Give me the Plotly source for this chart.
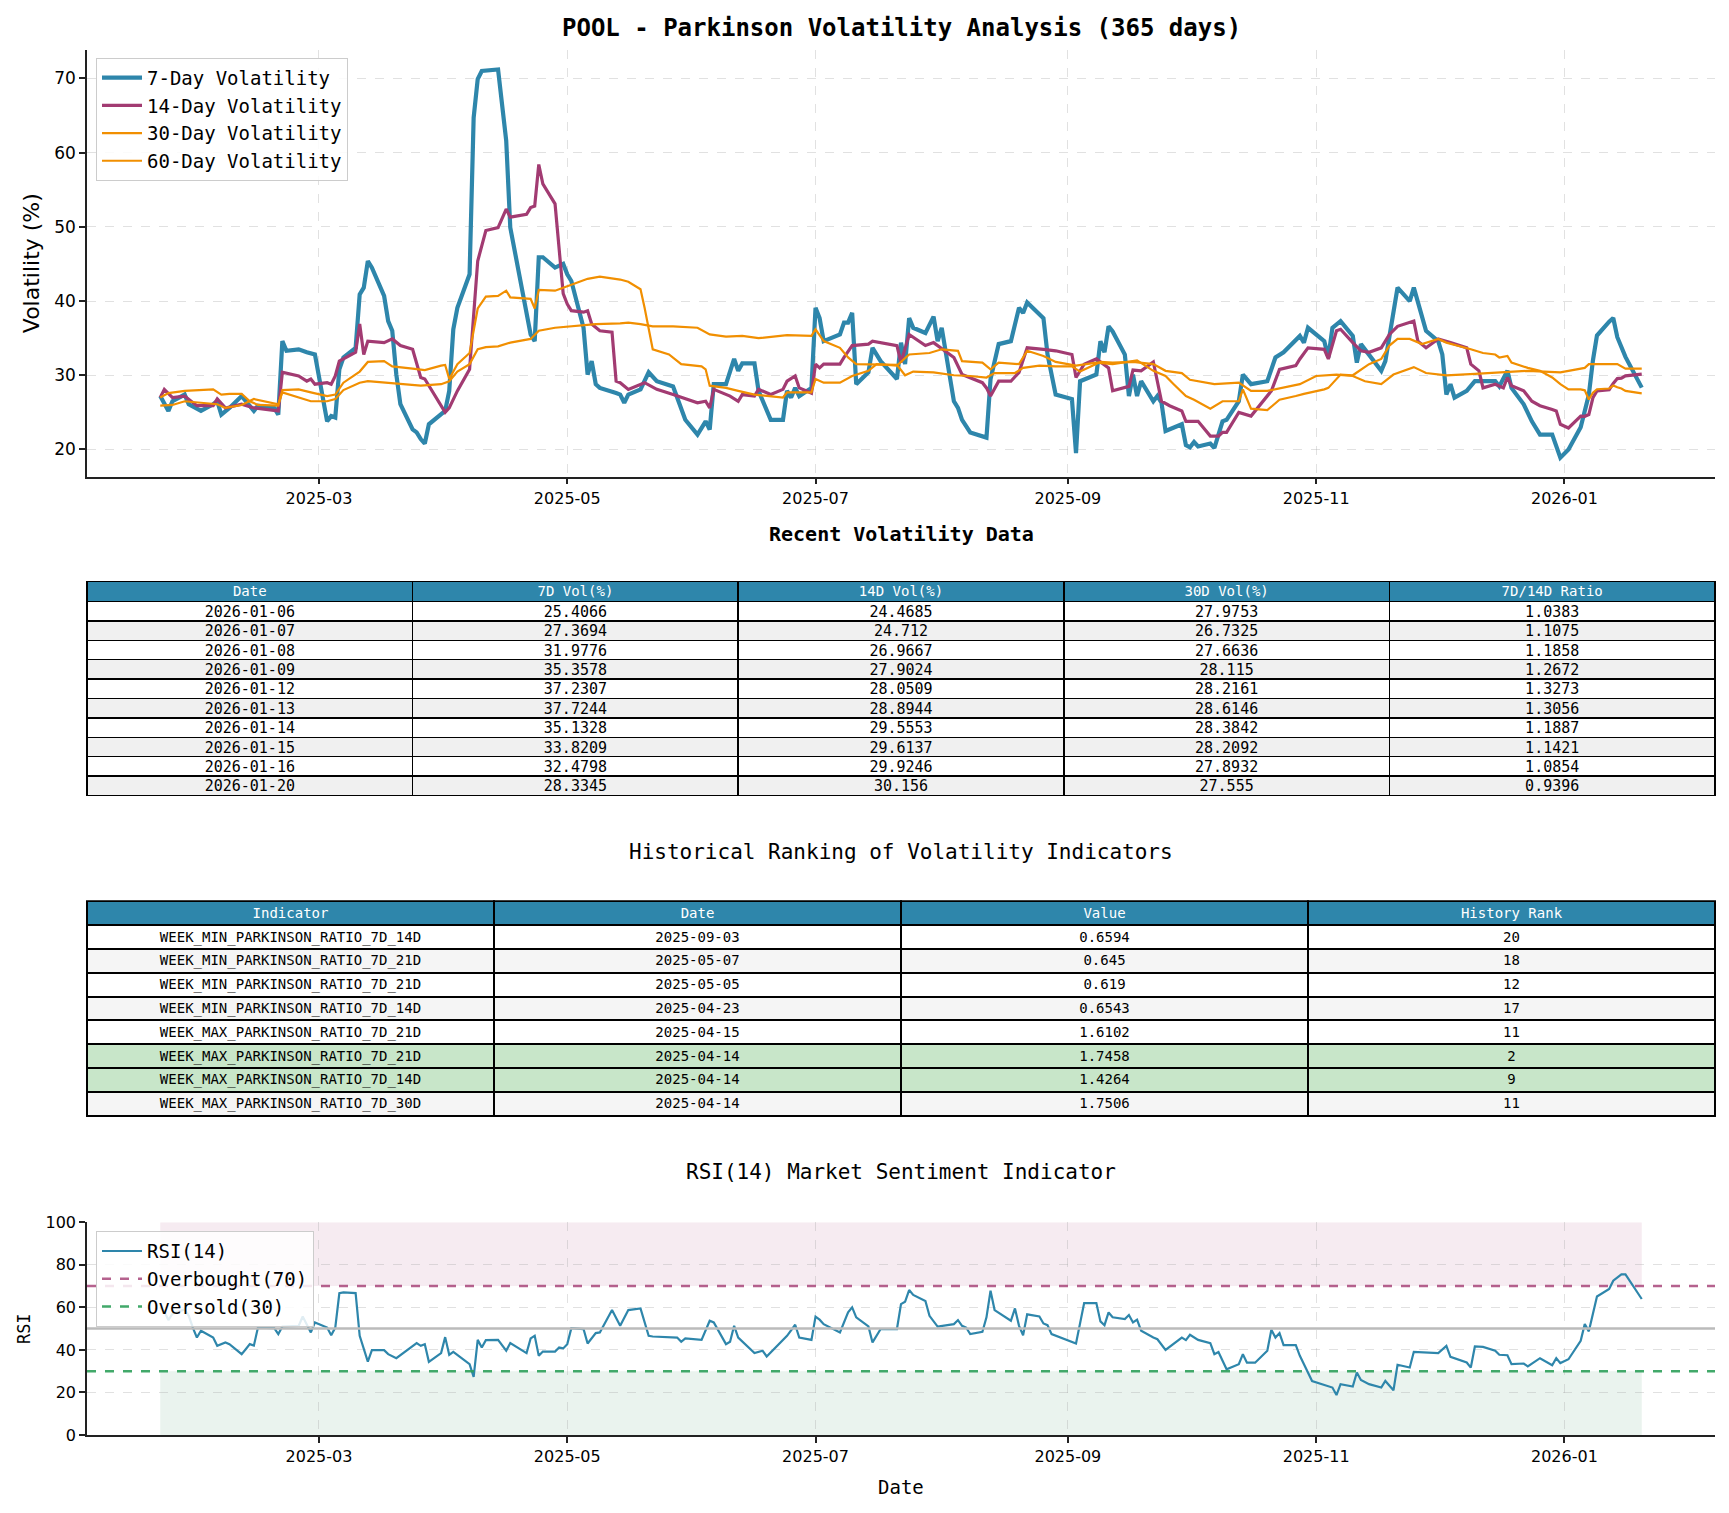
import plotly.graph_objects as go

FONT = "DejaVu Sans Mono"
SANS = "DejaVu Sans"

# ---------------- data ----------------
vol7_dates = ["2025-01-21","2025-01-23","2025-01-24","2025-01-27","2025-01-28","2025-01-31","2025-02-03","2025-02-04","2025-02-05","2025-02-07",
"2025-02-10","2025-02-13","2025-02-14","2025-02-18","2025-02-19","2025-02-20","2025-02-21","2025-02-24","2025-02-26","2025-02-28",
"2025-03-03","2025-03-04","2025-03-05","2025-03-06","2025-03-07","2025-03-10","2025-03-11","2025-03-12","2025-03-13","2025-03-14",
"2025-03-17","2025-03-18","2025-03-19","2025-03-20","2025-03-21","2025-03-24","2025-03-25","2025-03-26","2025-03-27","2025-03-28",
"2025-04-01","2025-04-02","2025-04-03","2025-04-04","2025-04-07","2025-04-08","2025-04-09","2025-04-10","2025-04-14","2025-04-16",
"2025-04-17","2025-04-22","2025-04-23","2025-04-24","2025-04-25","2025-04-28","2025-04-30","2025-05-01","2025-05-02","2025-05-05",
"2025-05-06","2025-05-07","2025-05-08","2025-05-09","2025-05-13","2025-05-14","2025-05-15","2025-05-16","2025-05-19","2025-05-21",
"2025-05-23","2025-05-27","2025-05-30","2025-06-02","2025-06-04","2025-06-05","2025-06-06","2025-06-09","2025-06-11","2025-06-12",
"2025-06-13","2025-06-16","2025-06-17","2025-06-20","2025-06-23","2025-06-24","2025-06-25","2025-06-26","2025-06-27","2025-06-30",
"2025-07-01","2025-07-02","2025-07-03","2025-07-07","2025-07-08","2025-07-09","2025-07-10","2025-07-11","2025-07-14","2025-07-15",
"2025-07-17","2025-07-21","2025-07-22","2025-07-23","2025-07-24","2025-07-25","2025-07-28","2025-07-30","2025-07-31","2025-08-01",
"2025-08-04","2025-08-05","2025-08-06","2025-08-08","2025-08-12","2025-08-13","2025-08-15","2025-08-18","2025-08-20","2025-08-21",
"2025-08-22","2025-08-26","2025-08-27","2025-08-29","2025-09-02","2025-09-03","2025-09-04","2025-09-08","2025-09-09","2025-09-10",
"2025-09-11","2025-09-12","2025-09-15","2025-09-16","2025-09-17","2025-09-18","2025-09-19","2025-09-22","2025-09-23","2025-09-24",
"2025-09-25","2025-09-26","2025-09-29","2025-09-30","2025-10-01","2025-10-02","2025-10-03","2025-10-06","2025-10-07","2025-10-08",
"2025-10-09","2025-10-10","2025-10-13","2025-10-14","2025-10-16","2025-10-20","2025-10-21","2025-10-22","2025-10-24","2025-10-28",
"2025-10-29","2025-10-30","2025-11-03","2025-11-04","2025-11-05","2025-11-07","2025-11-10","2025-11-11","2025-11-12","2025-11-17",
"2025-11-18","2025-11-19","2025-11-21","2025-11-24","2025-11-25","2025-11-28","2025-12-01","2025-12-02","2025-12-03","2025-12-04",
"2025-12-05","2025-12-08","2025-12-10","2025-12-15","2025-12-16","2025-12-18","2025-12-19","2025-12-22","2025-12-23","2025-12-24",
"2025-12-26","2025-12-29","2025-12-31","2026-01-02","2026-01-05","2026-01-06","2026-01-07","2026-01-08","2026-01-09","2026-01-12",
"2026-01-13","2026-01-14","2026-01-15","2026-01-16","2026-01-20"]
vol7_values = [27.2,25.2,26.5,27.4,26.1,25.2,26.1,26.5,24.7,25.6,
27.2,25.2,25.9,25.6,24.7,34.6,33.3,33.5,33.1,32.8,
23.8,24.5,24.3,30.8,32.4,33.7,40.9,41.8,45.4,44.5,
40.7,37.3,36.0,30.1,26.1,22.7,22.3,21.4,20.8,23.4,
25.2,27.9,36.2,39.1,43.6,64.7,69.9,71.0,71.2,61.6,
49.9,35.5,34.6,45.9,45.9,44.5,45.0,43.6,42.7,36.4,
30.1,31.9,28.8,28.3,27.6,27.4,26.3,27.4,28.1,30.4,
29.2,28.5,24.0,22.0,23.8,22.7,28.8,28.8,32.2,30.6,
31.6,31.6,27.9,24.0,24.0,27.9,27.0,28.3,27.2,28.3,
39.1,37.7,34.6,35.5,37.1,37.1,38.4,28.8,30.4,33.7,
31.9,29.5,34.4,31.5,37.7,36.4,35.7,37.9,34.6,36.4,
26.5,25.6,24.0,22.3,21.6,29.5,34.2,34.6,39.1,38.4,
39.8,37.7,32.8,27.4,26.8,19.5,29.2,30.1,34.6,33.1,
36.6,35.9,32.8,27.2,30.1,27.2,29.2,26.5,27.2,26.3,
22.5,22.7,23.4,20.6,20.3,21.0,20.4,20.8,20.2,22.0,
23.8,24.0,26.5,30.1,28.8,29.2,31.0,32.4,33.1,35.3,
34.4,36.4,34.6,32.4,36.4,37.3,35.3,31.7,34.2,30.6,
31.9,35.3,41.8,40.0,41.8,36.0,34.6,32.8,27.4,28.8,
27.0,27.9,29.2,29.2,28.5,30.6,28.3,26.1,25.0,23.8,
22.0,22.0,18.9,20.0,23.0,25.4066,27.3694,31.9776,35.3578,37.2307,
37.7244,35.1328,33.8209,32.4798,28.3345]

vol14_dates = ["2025-01-21","2025-01-22","2025-01-24","2025-01-27","2025-01-30","2025-02-03","2025-02-04","2025-02-06","2025-02-10","2025-02-13",
"2025-02-19","2025-02-20","2025-02-24","2025-02-26","2025-02-27","2025-02-28","2025-03-03","2025-03-04","2025-03-05","2025-03-06",
"2025-03-10","2025-03-11","2025-03-12","2025-03-13","2025-03-17","2025-03-19","2025-03-21","2025-03-24","2025-03-26","2025-03-27",
"2025-04-01","2025-04-02","2025-04-04","2025-04-07","2025-04-09","2025-04-11","2025-04-14","2025-04-16","2025-04-17","2025-04-21",
"2025-04-22","2025-04-23","2025-04-24","2025-04-25","2025-04-28","2025-04-30","2025-05-01","2025-05-02","2025-05-05","2025-05-06",
"2025-05-07","2025-05-09","2025-05-12","2025-05-13","2025-05-14","2025-05-16","2025-05-20","2025-05-23","2025-05-27","2025-05-30",
"2025-06-02","2025-06-04","2025-06-05","2025-06-06","2025-06-10","2025-06-12","2025-06-13","2025-06-16","2025-06-17","2025-06-20",
"2025-06-23","2025-06-24","2025-06-26","2025-06-27","2025-06-30","2025-07-01","2025-07-02","2025-07-03","2025-07-07","2025-07-08",
"2025-07-10","2025-07-14","2025-07-15","2025-07-21","2025-07-22","2025-07-24","2025-07-28","2025-07-30","2025-07-31","2025-08-04",
"2025-08-06","2025-08-11","2025-08-12","2025-08-13","2025-08-15","2025-08-18","2025-08-20","2025-08-22","2025-08-26","2025-08-29",
"2025-09-02","2025-09-03","2025-09-05","2025-09-08","2025-09-11","2025-09-12","2025-09-16","2025-09-17","2025-09-19","2025-09-22",
"2025-09-24","2025-09-26","2025-09-29","2025-09-30","2025-10-03","2025-10-06","2025-10-08","2025-10-09","2025-10-10","2025-10-13",
"2025-10-16","2025-10-17","2025-10-20","2025-10-21","2025-10-23","2025-10-27","2025-10-28","2025-10-30","2025-11-03","2025-11-04",
"2025-11-06","2025-11-07","2025-11-10","2025-11-12","2025-11-14","2025-11-17","2025-11-19","2025-11-21","2025-11-25","2025-11-26",
"2025-11-28","2025-12-01","2025-12-04","2025-12-08","2025-12-09","2025-12-11","2025-12-12","2025-12-15","2025-12-17","2025-12-18",
"2025-12-19","2025-12-22","2025-12-24","2025-12-26","2025-12-29","2025-12-30","2025-12-31","2026-01-02","2026-01-05","2026-01-06",
"2026-01-07","2026-01-08","2026-01-09","2026-01-12","2026-01-13","2026-01-14","2026-01-15","2026-01-16","2026-01-20"]
vol14_values = [27.0,28.1,27.0,27.2,25.9,25.9,26.8,25.6,26.1,25.6,
25.2,30.4,29.9,29.2,29.5,28.8,29.0,28.8,29.9,31.9,
33.1,36.9,32.8,34.6,34.4,34.9,34.0,33.5,29.7,29.5,
25.0,25.6,27.9,30.8,45.4,49.5,49.9,52.4,51.3,51.7,
52.6,52.8,58.4,55.8,53.1,41.0,39.6,38.7,38.5,38.7,
36.9,36.0,35.8,29.2,29.0,28.1,29.0,28.1,27.4,26.8,
26.3,26.5,25.6,28.1,27.2,26.5,27.4,27.2,28.1,27.4,
28.1,29.2,29.9,28.3,27.6,31.5,31.0,31.5,31.5,32.4,
34.0,34.2,34.6,34.0,31.7,35.5,34.0,34.4,34.0,32.4,
30.1,29.0,28.3,27.2,29.2,29.2,30.4,33.7,33.5,33.3,
32.8,29.7,31.5,32.2,31.0,27.9,28.5,30.7,30.6,31.8,
26.5,25.9,25.2,23.8,23.8,21.8,21.8,22.3,22.3,25.0,
24.5,25.2,27.2,27.9,30.8,31.3,32.2,33.7,33.5,32.2,
36.0,36.2,34.4,33.3,33.1,33.7,35.5,36.6,37.3,34.6,
33.7,34.9,34.4,33.7,31.5,30.6,28.3,28.8,28.3,29.7,
28.6,27.9,26.5,25.9,25.4,25.2,23.4,22.9,24.5,24.4685,
24.712,26.9667,27.9024,28.0509,28.8944,29.5553,29.6137,29.9246,30.156]

vol30_dates = ["2025-01-21","2025-01-23","2025-01-27","2025-01-31","2025-02-03","2025-02-05","2025-02-07","2025-02-10","2025-02-12","2025-02-14",
"2025-02-19","2025-02-20","2025-02-24","2025-02-27","2025-03-03","2025-03-05","2025-03-07","2025-03-11","2025-03-13","2025-03-17",
"2025-03-19","2025-03-24","2025-03-27","2025-03-31","2025-04-01","2025-04-02","2025-04-04","2025-04-07","2025-04-09","2025-04-11",
"2025-04-14","2025-04-16","2025-04-17","2025-04-22","2025-04-23","2025-04-24","2025-04-28","2025-05-01","2025-05-06","2025-05-09",
"2025-05-14","2025-05-16","2025-05-19","2025-05-20","2025-05-21","2025-05-22","2025-05-26","2025-05-29","2025-06-03","2025-06-04",
"2025-06-05","2025-06-09","2025-06-12","2025-06-16","2025-06-23","2025-06-24","2025-06-30","2025-07-01","2025-07-03","2025-07-07",
"2025-07-10","2025-07-14","2025-07-16","2025-07-21","2025-07-24","2025-07-29","2025-08-01","2025-08-05","2025-08-06","2025-08-11",
"2025-08-13","2025-08-15","2025-08-20","2025-08-22","2025-08-26","2025-08-29","2025-09-03","2025-09-05","2025-09-08","2025-09-12",
"2025-09-16","2025-09-18","2025-09-22","2025-09-25","2025-09-27","2025-09-30","2025-10-02","2025-10-06","2025-10-09","2025-10-13",
"2025-10-14","2025-10-16","2025-10-20","2025-10-23","2025-10-27","2025-10-29","2025-11-03","2025-11-04","2025-11-07","2025-11-10",
"2025-11-14","2025-11-17","2025-11-19","2025-11-21","2025-11-24","2025-11-27","2025-12-01","2025-12-03","2025-12-09","2025-12-12",
"2025-12-15","2025-12-16","2025-12-18","2025-12-19","2025-12-23","2025-12-26","2025-12-29","2025-12-31","2026-01-02","2026-01-05",
"2026-01-06","2026-01-07","2026-01-08","2026-01-09","2026-01-12","2026-01-13","2026-01-14","2026-01-15","2026-01-16","2026-01-20"]
vol30_values = [27.0,27.6,27.9,28.0,28.1,27.4,27.5,27.5,26.5,26.0,
25.9,28.0,28.1,27.7,27.2,27.4,29.0,30.5,31.8,31.9,
31.2,30.9,30.7,31.3,31.4,29.5,31.5,33.0,39.0,40.6,
40.7,41.4,40.5,40.3,39.0,41.5,41.4,42.0,43.0,43.3,
42.9,42.6,41.6,39.1,36.4,33.5,32.8,31.5,31.2,30.8,
28.6,28.3,27.9,27.4,27.0,27.7,27.7,29.5,29.0,29.0,
29.9,30.6,31.5,31.3,32.8,33.0,33.5,33.3,31.9,31.7,
30.8,31.7,31.5,33.3,32.6,31.8,31.3,31.5,31.7,31.5,
31.9,32.0,30.6,29.9,28.8,27.2,26.7,25.5,26.5,26.5,
28.1,25.5,25.3,26.7,27.2,27.5,28.1,28.3,30.1,30.0,
31.5,32.2,34.0,34.9,34.9,34.2,34.9,34.4,33.5,33.0,
32.8,32.4,32.6,31.7,31.0,30.6,29.7,28.8,28.1,28.1,
27.9753,26.7325,27.6636,28.115,28.2161,28.6146,28.3842,28.2092,27.8932,27.555]

vol60_dates = ["2025-01-21","2025-01-24","2025-01-27","2025-01-31","2025-02-04","2025-02-06","2025-02-10","2025-02-13","2025-02-19","2025-02-20",
"2025-02-24","2025-02-27","2025-03-03","2025-03-05","2025-03-07","2025-03-11","2025-03-13","2025-03-17","2025-03-21","2025-03-26",
"2025-03-31","2025-04-02","2025-04-04","2025-04-07","2025-04-09","2025-04-11","2025-04-14","2025-04-17","2025-04-22","2025-04-24",
"2025-04-28","2025-05-02","2025-05-08","2025-05-14","2025-05-16","2025-05-19","2025-05-22","2025-05-27","2025-06-02","2025-06-05",
"2025-06-09","2025-06-13","2025-06-17","2025-06-24","2025-06-30","2025-07-01","2025-07-03","2025-07-07","2025-07-09","2025-07-11",
"2025-07-16","2025-07-21","2025-07-23","2025-07-25","2025-07-30","2025-08-04","2025-08-08","2025-08-12","2025-08-14","2025-08-19",
"2025-08-21","2025-08-25","2025-08-29","2025-09-02","2025-09-04","2025-09-09","2025-09-12","2025-09-17","2025-09-22","2025-09-25",
"2025-09-29","2025-10-01","2025-10-07","2025-10-13","2025-10-16","2025-10-20","2025-10-28","2025-11-01","2025-11-06","2025-11-10",
"2025-11-13","2025-11-17","2025-11-20","2025-11-25","2025-11-28","2025-12-03","2025-12-10","2025-12-17","2025-12-23","2025-12-31",
"2026-01-06","2026-01-07","2026-01-14","2026-01-16","2026-01-20"]
vol60_values = [25.9,26.0,26.5,26.3,26.1,25.6,26.0,26.8,26.1,27.7,
27.0,26.5,26.5,26.8,28.0,29.0,29.2,29.0,28.8,28.6,
28.8,29.2,30.5,31.5,33.5,33.8,33.9,34.4,34.9,36.0,
36.4,36.6,36.9,37.0,37.1,36.9,36.6,36.6,36.4,35.5,
35.2,35.3,35.0,35.4,35.3,36.2,34.6,33.7,32.4,31.5,
31.5,31.4,30.0,30.5,30.4,30.0,29.9,29.7,30.3,30.3,
31.0,31.3,31.2,31.2,30.5,31.8,31.7,31.8,31.5,30.6,
30.3,29.4,28.8,29.0,27.9,27.9,28.8,29.9,30.1,29.9,
29.2,28.8,30.1,31.1,30.3,30.0,30.2,30.4,30.6,30.4,
31.0,31.5,31.5,30.9,30.9]

rsi_dates = ["2025-01-21","2025-01-22","2025-01-23","2025-01-24","2025-01-27","2025-01-28","2025-01-29","2025-01-30","2025-01-31","2025-02-03",
"2025-02-04","2025-02-06","2025-02-07","2025-02-10","2025-02-11","2025-02-12","2025-02-13","2025-02-14","2025-02-18","2025-02-19",
"2025-02-20","2025-02-24","2025-02-25","2025-02-26","2025-02-27","2025-02-28","2025-03-03","2025-03-04","2025-03-05","2025-03-06",
"2025-03-07","2025-03-10","2025-03-11","2025-03-13","2025-03-14","2025-03-17","2025-03-18","2025-03-20","2025-03-24","2025-03-25",
"2025-03-26","2025-03-27","2025-03-28","2025-03-31","2025-04-01","2025-04-02","2025-04-03","2025-04-07","2025-04-08","2025-04-09",
"2025-04-10","2025-04-11","2025-04-14","2025-04-16","2025-04-17","2025-04-21","2025-04-22","2025-04-23","2025-04-24","2025-04-25",
"2025-04-28","2025-04-29","2025-04-30","2025-05-01","2025-05-02","2025-05-05","2025-05-06","2025-05-08","2025-05-09","2025-05-12",
"2025-05-14","2025-05-16","2025-05-19","2025-05-21","2025-05-22","2025-05-28","2025-05-29","2025-05-30","2025-06-03","2025-06-05",
"2025-06-06","2025-06-09","2025-06-10","2025-06-11","2025-06-12","2025-06-16","2025-06-18","2025-06-19","2025-06-24","2025-06-26",
"2025-06-27","2025-06-30","2025-07-01","2025-07-02","2025-07-03","2025-07-07","2025-07-09","2025-07-10","2025-07-11","2025-07-14",
"2025-07-15","2025-07-17","2025-07-21","2025-07-22","2025-07-23","2025-07-24","2025-07-25","2025-07-28","2025-07-29","2025-07-31",
"2025-08-04","2025-08-05","2025-08-06","2025-08-07","2025-08-08","2025-08-11","2025-08-12","2025-08-13","2025-08-14","2025-08-18",
"2025-08-19","2025-08-20","2025-08-21","2025-08-22","2025-08-25","2025-08-26","2025-08-27","2025-08-28","2025-09-03","2025-09-05",
"2025-09-08","2025-09-09","2025-09-10","2025-09-11","2025-09-12","2025-09-15","2025-09-16","2025-09-17","2025-09-18","2025-09-19",
"2025-09-22","2025-09-23","2025-09-25","2025-09-29","2025-09-30","2025-10-01","2025-10-03","2025-10-06","2025-10-07","2025-10-08",
"2025-10-10","2025-10-13","2025-10-14","2025-10-15","2025-10-17","2025-10-20","2025-10-21","2025-10-22","2025-10-23","2025-10-24",
"2025-10-27","2025-10-28","2025-10-31","2025-11-03","2025-11-05","2025-11-06","2025-11-07","2025-11-10","2025-11-11","2025-11-12",
"2025-11-14","2025-11-17","2025-11-18","2025-11-20","2025-11-21","2025-11-24","2025-11-25","2025-12-01","2025-12-03","2025-12-04",
"2025-12-08","2025-12-09","2025-12-10","2025-12-12","2025-12-15","2025-12-16","2025-12-18","2025-12-19","2025-12-22","2025-12-23",
"2025-12-26","2025-12-29","2025-12-30","2025-12-31","2026-01-02","2026-01-05","2026-01-06","2026-01-07","2026-01-09","2026-01-12",
"2026-01-13","2026-01-15","2026-01-16","2026-01-20"]
rsi_values = [60.0,58.0,54.0,57.0,59.0,56.0,50.5,45.8,49.0,45.8,
41.9,43.5,42.7,38.0,40.3,42.7,42.0,50.5,50.2,47.4,
51.0,51.3,55.7,52.1,48.2,52.9,50.5,46.9,50.5,66.6,
67.0,66.7,46.6,34.5,39.9,39.9,38.0,36.1,41.9,43.2,
41.9,42.7,34.4,38.5,46.0,37.7,39.1,33.3,27.3,44.7,
41.1,44.6,44.7,39.6,43.2,38.5,45.4,46.6,37.2,39.2,
39.2,41.1,40.7,42.7,50.2,49.8,43.0,47.9,48.2,58.7,
51.3,58.7,59.5,46.6,46.3,45.8,43.8,45.4,44.7,53.7,
52.9,42.7,43.8,51.3,45.8,38.5,39.6,36.9,46.6,51.8,
45.8,44.7,55.6,54.2,52.1,48.2,57.6,60.0,55.3,51.0,
43.5,49.8,49.8,61.5,62.6,68.1,65.8,63.0,56.0,50.9,
52.1,54.0,51.3,50.5,47.4,48.5,55.3,67.8,58.7,53.7,
59.5,51.3,46.9,56.7,55.7,52.4,51.6,47.4,43.0,62.0,
62.0,53.4,51.6,57.6,55.3,54.5,56.4,52.9,54.2,49.0,
45.8,45.0,40.0,45.8,44.6,47.1,44.7,43.2,38.0,39.0,
30.9,33.3,38.0,34.0,34.0,39.6,49.5,45.8,47.9,42.2,
42.2,37.2,25.4,23.5,22.3,18.8,23.9,22.8,29.4,25.9,
23.9,22.3,25.4,21.0,33.0,31.7,39.1,38.5,41.9,36.7,
34.1,31.7,41.6,41.4,39.6,37.7,37.5,33.3,33.6,32.2,
36.1,32.8,36.1,33.8,35.6,44.3,52.1,48.7,65.1,68.6,
72.5,75.5,75.5,63.9]

OVERBOUGHT = 70
OVERSOLD = 30
NEUTRAL = 50

x_tick_vals = ["2025-03-01","2025-05-01","2025-07-01","2025-09-01","2025-11-01","2026-01-01"]
x_tick_text = ["2025-03","2025-05","2025-07","2025-09","2025-11","2026-01"]
x_range = ["2025-01-03","2026-02-07"]
vol_y_ticks = [20, 30, 40, 50, 60, 70]
vol_y_range = [16.35, 73.85]
rsi_y_ticks = [0, 20, 40, 60, 80, 100]

recent_header = ["Date", "7D Vol(%)", "14D Vol(%)", "30D Vol(%)", "7D/14D Ratio"]
recent_dates = ["2026-01-06","2026-01-07","2026-01-08","2026-01-09","2026-01-12",
                "2026-01-13","2026-01-14","2026-01-15","2026-01-16","2026-01-20"]
recent_7d = ["25.4066","27.3694","31.9776","35.3578","37.2307","37.7244","35.1328","33.8209","32.4798","28.3345"]
recent_14d = ["24.4685","24.712","26.9667","27.9024","28.0509","28.8944","29.5553","29.6137","29.9246","30.156"]
recent_30d = ["27.9753","26.7325","27.6636","28.115","28.2161","28.6146","28.3842","28.2092","27.8932","27.555"]
recent_ratio = ["1.0383","1.1075","1.1858","1.2672","1.3273","1.3056","1.1887","1.1421","1.0854","0.9396"]

rank_header = ["Indicator", "Date", "Value", "History Rank"]
rank_indicator = ["WEEK_MIN_PARKINSON_RATIO_7D_14D","WEEK_MIN_PARKINSON_RATIO_7D_21D","WEEK_MIN_PARKINSON_RATIO_7D_21D",
                  "WEEK_MIN_PARKINSON_RATIO_7D_14D","WEEK_MAX_PARKINSON_RATIO_7D_21D","WEEK_MAX_PARKINSON_RATIO_7D_21D",
                  "WEEK_MAX_PARKINSON_RATIO_7D_14D","WEEK_MAX_PARKINSON_RATIO_7D_30D"]
rank_date = ["2025-09-03","2025-05-07","2025-05-05","2025-04-23","2025-04-15","2025-04-14","2025-04-14","2025-04-14"]
rank_value = ["0.6594","0.645","0.619","0.6543","1.6102","1.7458","1.4264","1.7506"]
rank_rank = [20, 18, 12, 17, 11, 2, 9, 11]

# ---------------- styling ----------------
BLUE = "#2E86AB"
MAGENTA = "#A23B72"
ORANGE = "#F18F01"
W, H = 1729, 1513
Y_OFFSET, Y_SCALE = 9.15, 0.988   # small vertical calibration of the page capture

def px_x(v):
    return v / W

def px_y(v):
    return 1 - ((v - Y_OFFSET) / Y_SCALE) / H

fig = go.Figure()

fig.add_trace(go.Scatter(x=vol7_dates, y=vol7_values, mode="lines", name="7-Day Volatility",
                         line=dict(color=BLUE, width=4.2), legend="legend", legendgroup="a"))
fig.add_trace(go.Scatter(x=vol14_dates, y=vol14_values, mode="lines", name="14-Day Volatility",
                         line=dict(color=MAGENTA, width=3.2), legend="legend", legendgroup="b"))
fig.add_trace(go.Scatter(x=vol30_dates, y=vol30_values, mode="lines", name="30-Day Volatility",
                         line=dict(color=ORANGE, width=2.2), legend="legend", legendgroup="c"))
fig.add_trace(go.Scatter(x=vol60_dates, y=vol60_values, mode="lines", name="60-Day Volatility",
                         line=dict(color=ORANGE, width=2.2), legend="legend", legendgroup="d"))

# RSI
fig.add_trace(go.Scatter(x=rsi_dates, y=rsi_values, mode="lines", name="RSI(14)",
                         line=dict(color=BLUE, width=2.2), xaxis="x2", yaxis="y2",
                         legend="legend2", legendgroup="e"))
fig.add_trace(go.Scatter(x=[None], y=[None], mode="lines", name="Overbought(70)",
                         line=dict(color="rgba(162,59,114,0.8)", width=2.5, dash="dash"),
                         xaxis="x2", yaxis="y2", legend="legend2", legendgroup="f"))
fig.add_trace(go.Scatter(x=[None], y=[None], mode="lines", name="Oversold(30)",
                         line=dict(color="rgba(46,160,90,0.9)", width=2.5, dash="dash"),
                         xaxis="x2", yaxis="y2", legend="legend2", legendgroup="g"))

# Tables: one layer draws fills and borders, a second transparent layer carries the text
# (nudged up a few pixels so that the text sits in the middle of each row).
CLEAR = "rgba(0,0,0,0)"

def add_table(columns, header, row_fill, top, bottom, head_h, row_h, line_w,
              head_size, cell_size, text_shift):
    ncol = len(columns)
    dom_x = [px_x(87), px_x(1715)]
    blank_cols = [[""] * len(columns[0]) for _ in columns]
    fig.add_trace(go.Table(
        domain=dict(x=dom_x, y=[px_y(bottom + 8), px_y(top)]),
        columnwidth=[1] * ncol,
        header=dict(values=[""] * ncol, fill_color=BLUE, line=dict(color="black", width=line_w),
                    height=head_h),
        cells=dict(values=blank_cols, fill_color=[row_fill] * ncol,
                   line=dict(color="black", width=line_w), height=row_h),
    ))
    fig.add_trace(go.Table(
        domain=dict(x=dom_x, y=[px_y(bottom + 8 - text_shift), px_y(top - text_shift)]),
        columnwidth=[1] * ncol,
        header=dict(values=header, fill_color=CLEAR, line=dict(color=CLEAR, width=0),
                    font=dict(family=FONT, size=head_size, color="white"), align="center", height=head_h),
        cells=dict(values=columns, fill_color=CLEAR, line=dict(color=CLEAR, width=0),
                   font=dict(family=FONT, size=cell_size, color="black"), align="center", height=row_h),
    ))

recent_fill = ["white" if i % 2 == 0 else "#F0F0F0" for i in range(len(recent_dates))]
add_table([recent_dates, recent_7d, recent_14d, recent_30d, recent_ratio], recent_header, recent_fill,
          top=582, bottom=797, head_h=20, row_h=19.4, line_w=1.5, head_size=14, cell_size=15, text_shift=4)

rank_fill = []
for i, r in enumerate(rank_rank):
    if r <= 10:
        rank_fill.append("#C8E6C9")
    else:
        rank_fill.append("white" if i % 2 == 0 else "#F5F5F5")
add_table([rank_indicator, rank_date, rank_value, [str(r) for r in rank_rank]], rank_header, rank_fill,
          top=902, bottom=1118, head_h=23.8, row_h=23.8, line_w=2, head_size=14, cell_size=14, text_shift=2)

axis_common = dict(showline=True, linecolor="#222222", linewidth=1.5, ticks="outside", ticklen=6,
                   tickwidth=1.5, tickcolor="#222222", showgrid=True, gridcolor="rgba(170,170,170,0.35)",
                   griddash="dash", gridwidth=1, zeroline=False, mirror=False,
                   tickfont=dict(family=SANS, size=16, color="black"))

fig.update_layout(
    width=W, height=H, autosize=False,
    margin=dict(l=0, r=0, t=0, b=0),
    paper_bgcolor="white", plot_bgcolor="white",
    font=dict(family=FONT, color="black"),
    xaxis=dict(domain=[px_x(87), px_x(1715)], anchor="y", type="date", range=x_range,
               tickvals=x_tick_vals, ticktext=x_tick_text, **axis_common),
    yaxis=dict(domain=[px_y(477), px_y(50)], anchor="x", range=vol_y_range, tickvals=vol_y_ticks,
               **{**axis_common, "tickfont": dict(family=SANS, size=17, color="black")}),
    xaxis2=dict(domain=[px_x(87), px_x(1715)], anchor="y2", type="date", range=x_range,
                tickvals=x_tick_vals, ticktext=x_tick_text, **axis_common),
    yaxis2=dict(domain=[px_y(1436), px_y(1223)], anchor="x2", range=[0, 100], tickvals=rsi_y_ticks, **axis_common),
    legend=dict(x=px_x(96), y=px_y(58), xanchor="left", yanchor="top", bgcolor="rgba(255,255,255,0.85)",
                bordercolor="#CCCCCC", borderwidth=1, font=dict(family=FONT, size=19),
                traceorder="grouped", tracegroupgap=0, itemwidth=40),
    legend2=dict(x=px_x(96), y=px_y(1232), xanchor="left", yanchor="top", bgcolor="rgba(255,255,255,0.85)",
                 bordercolor="#CCCCCC", borderwidth=1, font=dict(family=FONT, size=19),
                 traceorder="grouped", tracegroupgap=0, itemwidth=40),
    showlegend=True,
)

shapes = [
    dict(type="rect", xref="x2", yref="y2", x0=rsi_dates[0], x1=rsi_dates[-1], y0=OVERBOUGHT, y1=100,
         fillcolor="rgba(162,59,114,0.1)", line=dict(width=0), layer="below"),
    dict(type="rect", xref="x2", yref="y2", x0=rsi_dates[0], x1=rsi_dates[-1], y0=0, y1=OVERSOLD,
         fillcolor="rgba(46,139,87,0.1)", line=dict(width=0), layer="below"),
    dict(type="line", xref="x2 domain", yref="y2", x0=0, x1=1, y0=NEUTRAL, y1=NEUTRAL,
         line=dict(color="#BBBBBB", width=2.5)),
    dict(type="line", xref="x2 domain", yref="y2", x0=0, x1=1, y0=OVERBOUGHT, y1=OVERBOUGHT,
         line=dict(color="rgba(162,59,114,0.8)", width=2.5, dash="dash")),
    dict(type="line", xref="x2 domain", yref="y2", x0=0, x1=1, y0=OVERSOLD, y1=OVERSOLD,
         line=dict(color="rgba(46,160,90,0.9)", width=2.5, dash="dash")),
]
fig.update_layout(shapes=shapes)

center_x = px_x((87 + 1715) / 2)
annotations = [
    dict(text="<b>POOL - Parkinson Volatility Analysis (365 days)</b>", x=center_x, y=px_y(28),
         font=dict(family=FONT, size=24)),
    dict(text="<b>Recent Volatility Data</b>", x=center_x, y=px_y(534), font=dict(family=FONT, size=20)),
    dict(text="Historical Ranking of Volatility Indicators", x=center_x, y=px_y(853), font=dict(family=FONT, size=21)),
    dict(text="RSI(14) Market Sentiment Indicator", x=center_x, y=px_y(1173), font=dict(family=FONT, size=21)),
    dict(text="Volatility (%)", x=px_x(31), y=px_y(263.5), textangle=-90, font=dict(family=SANS, size=22)),
    dict(text="RSI", x=px_x(24), y=px_y(1330), textangle=-90, font=dict(family=FONT, size=17)),
    dict(text="Date", x=center_x, y=px_y(1488), font=dict(family=FONT, size=19)),
]
for a in annotations:
    a.update(xref="paper", yref="paper", showarrow=False, xanchor="center", yanchor="middle")
fig.update_layout(annotations=annotations)

fig.write_html(
    "out.html",
    config={"displayModeBar": False},
    post_script=("var d=document.getElementById('{plot_id}');"
                 "d.style.position='absolute';d.style.top='0px';d.style.left='0px';"
                 "document.body.style.margin='0px';document.body.style.overflow='hidden';"
                 "document.documentElement.style.overflow='hidden';"),
)
